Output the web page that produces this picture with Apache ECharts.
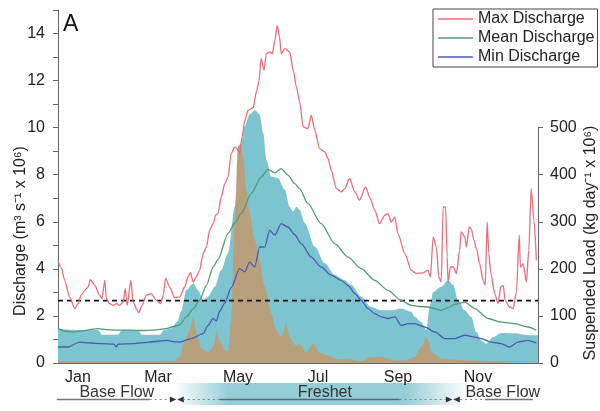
<!DOCTYPE html>
<html>
<head>
<meta charset="utf-8">
<script src="https://cdn.jsdelivr.net/npm/echarts@6/dist/echarts.min.js"></script>
<style>
  html, body { margin: 0; padding: 0; background: #fff; }
  #chart { width: 600px; height: 411px; }
</style>
</head>
<body>
<div id="chart"></div>
<script>
// Month categories along the bottom axis
const monthLabels = ['Jan', 'Feb', 'Mar', 'Apr', 'May', 'Jun', 'Jul', 'Aug', 'Sep', 'Oct', 'Nov', 'Dec'];

// Labelled ticks on each vertical axis
const dischargeTicks = [0, 2, 4, 6, 8, 10, 12, 14];
const loadTicks = [0, 100, 200, 300, 400, 500];

// Threshold discharge (m3 s-1 x 10^6)
const thresholdDischarge = 2.65;

// Discharge series: [month position (0 = 1 Jan, 12 = 31 Dec), discharge m3 s-1 x 10^6]
const maxDischarge = [
  [0, 4.36], [0.08, 4.05], [0.17, 3.5], [0.29, 2.8], [0.42, 2.31], [0.5, 2.52], [0.58, 2.88],
  [0.67, 3.09], [0.75, 3.23], [0.81, 3.54], [0.92, 3.3], [1.04, 2.88], [1.1, 2.74], [1.17, 3.51],
  [1.21, 2.74], [1.29, 2.52], [1.38, 2.45], [1.46, 2.52], [1.54, 2.45], [1.63, 2.6], [1.68, 3.16],
  [1.73, 2.45], [1.82, 3.51], [1.88, 2.59], [1.96, 2.31], [2.02, 2.13], [2.1, 2.45], [2.21, 2.88],
  [2.33, 2.95], [2.46, 2.66], [2.57, 2.52], [2.63, 2.88], [2.69, 3.61], [2.79, 3.23], [2.92, 2.77],
  [3.04, 2.8], [3.17, 3.23], [3.25, 3.66], [3.31, 3.84], [3.38, 3.44], [3.46, 3.66], [3.54, 3.94],
  [3.63, 4.65], [3.71, 4.93], [3.79, 5.64], [3.88, 5.92], [3.94, 6.28], [4.0, 6.35], [4.08, 7.05],
  [4.17, 7.62], [4.25, 7.9], [4.33, 8.9], [4.42, 9.18], [4.47, 9.11], [4.54, 8.9], [4.6, 9.6],
  [4.67, 10.31], [4.75, 10.74], [4.88, 10.85], [4.96, 11.52], [5.02, 11.94], [5.08, 12.94],
  [5.15, 12.44], [5.21, 13.15], [5.29, 13.22], [5.36, 13.15], [5.42, 13.71], [5.48, 14.35],
  [5.54, 13.85], [5.58, 13.15], [5.67, 13.36], [5.79, 13.22], [5.88, 12.44], [5.96, 11.73],
  [6.04, 11.1], [6.13, 10.03], [6.25, 9.96], [6.33, 10.53], [6.42, 9.89], [6.54, 9.11], [6.67, 8.97],
  [6.75, 8.69], [6.83, 8.19], [6.96, 7.41], [7.08, 7.27], [7.17, 7.41], [7.29, 7.84], [7.42, 7.27],
  [7.54, 6.92], [7.69, 7.48], [7.79, 7.05], [7.92, 6.49], [8.04, 5.92], [8.17, 6.28], [8.25, 6.35],
  [8.33, 5.99], [8.42, 6.2], [8.5, 5.5], [8.67, 4.65], [8.83, 3.94], [8.96, 3.8], [9.13, 3.83],
  [9.25, 3.94], [9.31, 3.66], [9.38, 5.36], [9.46, 4.93], [9.52, 3.66], [9.58, 3.44], [9.63, 6.63],
  [9.69, 6.63], [9.73, 4.5], [9.75, 3.44], [9.81, 4.08], [9.88, 4.08], [9.96, 3.8], [10.04, 4.79],
  [10.08, 5.57], [10.17, 5.36], [10.21, 4.93], [10.28, 5.78], [10.33, 5.71], [10.4, 5.21],
  [10.46, 4.86], [10.54, 4.22], [10.63, 3.51], [10.68, 3.3], [10.73, 5.99], [10.77, 4.65],
  [10.82, 3.8], [10.92, 2.95], [11.0, 2.52], [11.07, 3.23], [11.13, 3.3], [11.18, 2.66],
  [11.29, 2.38], [11.38, 2.31], [11.46, 3.02], [11.53, 5.43], [11.56, 4.08], [11.63, 4.22],
  [11.71, 3.44], [11.77, 4.79], [11.83, 7.41], [11.9, 6.06], [11.96, 4.36]
];

const meanDischarge = [
  [0, 1.46], [0.2, 1.35], [0.4, 1.32], [0.6, 1.36], [0.8, 1.42], [1.0, 1.46], [1.2, 1.42],
  [1.5, 1.4], [1.8, 1.4], [2.1, 1.38], [2.4, 1.4], [2.7, 1.46], [2.9, 1.55], [3.04, 1.62],
  [3.21, 1.96], [3.38, 2.3], [3.54, 2.66], [3.71, 3.3], [3.88, 4.08], [4.0, 4.4], [4.25, 5.5],
  [4.42, 5.95], [4.58, 6.35], [4.83, 7.2], [5.08, 7.9], [5.25, 8.23], [5.42, 8.08], [5.58, 8.26],
  [5.75, 7.98], [5.92, 7.62], [6.04, 7.41], [6.25, 6.77], [6.58, 5.92], [6.92, 5.07], [7.25, 4.5],
  [7.58, 4.01], [7.92, 3.51], [8.25, 3.09], [8.58, 2.66], [8.83, 2.45], [9.04, 2.4], [9.25, 2.38],
  [9.58, 2.24], [9.75, 2.35], [9.92, 2.49], [10.17, 2.59], [10.42, 2.31], [10.75, 1.89],
  [11.08, 1.74], [11.42, 1.67], [11.75, 1.53], [11.96, 1.39]
];

const minDischarge = [
  [0, 0.68], [0.25, 0.68], [0.54, 0.89], [0.8, 0.85], [1.1, 0.82], [1.4, 0.8], [1.46, 0.68],
  [1.5, 0.8], [1.88, 0.82], [2.29, 0.89], [2.71, 0.96], [2.92, 0.9], [3.04, 0.89], [3.33, 1.04],
  [3.63, 1.25], [3.75, 1.6], [3.88, 1.9], [3.96, 1.78], [4.04, 2.2], [4.17, 2.55], [4.33, 3.2],
  [4.54, 4.01], [4.67, 3.87], [4.79, 4.29], [4.92, 4.08], [5.04, 4.93], [5.17, 4.93], [5.29, 5.64],
  [5.42, 5.43], [5.58, 5.92], [5.75, 5.78], [5.92, 5.45], [6.08, 5.07], [6.33, 4.5], [6.58, 4.08],
  [6.83, 3.73], [7.08, 3.51], [7.25, 3.3], [7.42, 2.95], [7.58, 2.66], [7.75, 2.31], [7.92, 2.1],
  [8.08, 1.96], [8.25, 1.89], [8.42, 1.96], [8.58, 1.6], [8.75, 1.67], [8.92, 1.67], [9.17, 1.53],
  [9.42, 1.32], [9.67, 1.04], [9.92, 1.04], [10.17, 1.18], [10.42, 1.1], [10.58, 1.04],
  [10.83, 0.89], [11.08, 0.82], [11.29, 0.68], [11.5, 0.89], [11.75, 0.96], [11.96, 0.85]
];

// Suspended load envelopes: [month position, kg day-1 x 10^6]
const loadHigh = [
  [0, 72], [0.5, 70], [1.0, 70], [1.1, 60], [1.5, 60], [1.6, 70], [2.0, 70], [2.1, 60],
  [2.55, 60], [2.65, 70], [2.85, 74], [2.98, 88], [3.08, 110], [3.21, 155], [3.38, 169],
  [3.5, 155], [3.63, 134], [3.75, 141], [3.92, 162], [4.08, 197], [4.25, 233], [4.42, 332],
  [4.54, 446], [4.67, 503], [4.79, 528], [4.92, 537], [5.04, 528], [5.13, 489], [5.21, 432],
  [5.33, 396], [5.5, 393], [5.67, 368], [5.79, 332], [5.88, 322], [5.96, 332], [6.04, 325],
  [6.17, 297], [6.42, 247], [6.67, 212], [6.92, 187], [7.17, 176], [7.33, 166], [7.58, 141],
  [7.83, 119], [8.08, 112], [8.33, 112], [8.58, 116], [8.83, 109], [8.92, 98], [9.08, 87],
  [9.21, 70], [9.29, 119], [9.38, 151], [9.58, 162], [9.75, 176], [9.88, 166], [10.0, 134],
  [10.17, 112], [10.33, 98], [10.46, 66], [10.58, 48], [10.71, 41], [10.88, 55], [11.08, 64],
  [11.42, 63], [11.75, 59], [12, 59]
];

const loadLow = [
  [0, 4], [1, 4], [2, 4], [2.9, 5], [3.04, 13], [3.17, 48], [3.29, 70], [3.38, 98], [3.46, 63],
  [3.58, 31], [3.75, 23], [3.88, 34], [3.96, 66], [4.04, 48], [4.17, 27], [4.25, 23], [4.33, 91],
  [4.42, 304], [4.5, 460], [4.57, 467], [4.63, 439], [4.71, 368], [4.79, 318], [4.92, 261],
  [5.04, 219], [5.17, 162], [5.33, 105], [5.46, 70], [5.58, 55], [5.71, 84], [5.79, 55],
  [5.92, 38], [6.04, 40], [6.21, 22], [6.38, 42], [6.54, 22], [6.75, 16], [7.0, 8], [7.25, 9],
  [7.58, 4], [7.83, 13], [8.08, 14], [8.33, 7], [8.67, 5], [8.92, 13], [9.08, 34], [9.21, 53],
  [9.38, 20], [9.58, 9], [10.17, 6], [11, 4], [12, 4]
];

// Hydrological seasons shown beneath the time axis (month positions)
const seasonNames = ['Base Flow', 'Freshet', 'Base Flow'];
const seasonBreaks = [2.97, 9.87];

const FONT = '"Liberation Sans", Arial, Helvetica, sans-serif';
const AXIS_GRAY = '#666';
const LABEL_COLOR = '#222';

const chart = echarts.init(document.getElementById('chart'), null, { renderer: 'canvas' });

function lineSeries(name, data, color) {
  return {
    name, type: 'line', data, xAxisIndex: 1, yAxisIndex: 0,
    symbol: 'none', smooth: 0.25, smoothMonotone: 'x', z: 5,
    lineStyle: { color, width: 1.3 }, itemStyle: { color }
  };
}

function areaSeries(name, data, color, z) {
  return {
    name, type: 'line', data, xAxisIndex: 1, yAxisIndex: 1,
    symbol: 'none', smooth: 0.3, smoothMonotone: 'x', z,
    lineStyle: { width: 0 }, areaStyle: { color, opacity: 1 }, itemStyle: { color }
  };
}

const tealSeries = areaSeries('Suspended Load (upper)', loadHigh, '#7cc4cf', 1);
// right-hand axis line only spans the labelled load range
tealSeries.markLine = {
  silent: true, symbol: 'none', label: { show: false },
  lineStyle: { color: AXIS_GRAY, width: 1, type: 'solid' },
  data: [[{ coord: [12, loadTicks[0]] }, { coord: [12, loadTicks[loadTicks.length - 1]] }]]
};

chart.setOption({
  animation: false,
  textStyle: { fontFamily: FONT },
  grid: { left: 58, right: 62, top: 10, bottom: 48, containLabel: false },
  legend: {
    data: ['Max Discharge', 'Mean Discharge', 'Min Discharge'],
    orient: 'vertical', left: 433, top: 9,
    icon: 'rect', itemWidth: 35, itemHeight: 1.4, itemGap: 3,
    borderColor: '#444', borderWidth: 1, padding: [2, 3, 2, 5],
    textStyle: { fontSize: 16, color: LABEL_COLOR, fontFamily: FONT }
  },
  xAxis: [
    {
      type: 'category', data: monthLabels, boundaryGap: true,
      axisLine: { lineStyle: { color: AXIS_GRAY } },
      axisTick: { length: 5, interval: 0, lineStyle: { color: AXIS_GRAY } },
      axisLabel: { interval: 1, fontSize: 16, color: LABEL_COLOR, margin: 7, fontFamily: FONT },
      splitLine: { show: false }
    },
    { type: 'value', min: 0, max: 12, show: false }
  ],
  yAxis: [
    {
      type: 'value', min: 0, max: 15, interval: 1,
      axisLine: { show: true, lineStyle: { color: AXIS_GRAY } },
      axisTick: { show: true, length: 5, lineStyle: { color: AXIS_GRAY } },
      axisLabel: {
        fontSize: 16, color: LABEL_COLOR, margin: 13, fontFamily: FONT,
        formatter: v => (dischargeTicks.includes(v) ? String(v) : '')
      },
      splitLine: { show: false }
    },
    {
      type: 'value', min: 0, max: 750, interval: 100, position: 'right',
      axisLine: { show: false },
      axisTick: { show: true, length: 5, customValues: loadTicks, lineStyle: { color: AXIS_GRAY } },
      axisLabel: { customValues: loadTicks, fontSize: 16, color: LABEL_COLOR, margin: 12, fontFamily: FONT },
      splitLine: { show: false }
    }
  ],
  series: [
    tealSeries,
    areaSeries('Suspended Load (lower)', loadLow, '#b8a07c', 2),
    {
      name: 'Threshold', type: 'line', xAxisIndex: 1, yAxisIndex: 0, z: 4,
      data: [[0, thresholdDischarge], [12, thresholdDischarge]],
      symbol: 'none', lineStyle: { color: '#111', width: 1.6, type: [5, 4] }
    },
    lineSeries('Max Discharge', maxDischarge, '#f06a78'),
    lineSeries('Mean Discharge', meanDischarge, '#4f9c74'),
    lineSeries('Min Discharge', minDischarge, '#4a5cb0')
  ]
});

// Season strip and axis titles
const px = m => chart.convertToPixel({ xAxisIndex: 1 }, m);
const BAND_TOP = 383, BAND_H = 22, TEXT_Y = 392.5, LINE_Y = 399.5;
const bandStart = px(seasonBreaks[0] - 0.07), bandEnd = px(seasonBreaks[1] + 0.37);
const bandW = bandEnd - bandStart;
const bandRGB = '150,205,214';

function seg(x1, x2, dotted, color) {
  return {
    type: 'line', silent: true,
    shape: { x1, y1: LINE_Y, x2, y2: LINE_Y },
    style: { stroke: color, lineWidth: dotted ? 1.2 : 1.5, lineDash: dotted ? [2, 3] : null }
  };
}
function arrows(cx) {
  return [
    { type: 'polygon', silent: true, shape: { points: [[cx - 7, LINE_Y - 3], [cx - 7, LINE_Y + 3], [cx - 0.5, LINE_Y]] }, style: { fill: '#333' } },
    { type: 'polygon', silent: true, shape: { points: [[cx + 7, LINE_Y - 3], [cx + 7, LINE_Y + 3], [cx + 0.5, LINE_Y]] }, style: { fill: '#333' } }
  ];
}
function label(text, x) {
  return {
    type: 'text', silent: true, x, y: TEXT_Y,
    style: { text, font: '16px ' + FONT, fill: '#333', align: 'center', verticalAlign: 'middle' }
  };
}

const b0 = seasonBreaks[0], b1 = seasonBreaks[1];
const graphics = [
  {
    type: 'rect', silent: true, z: -1,
    shape: { x: bandStart, y: BAND_TOP, width: bandW, height: BAND_H },
    style: {
      fill: new echarts.graphic.LinearGradient(0, 0, 1, 0, [
        { offset: 0, color: 'rgba(' + bandRGB + ',0)' },
        { offset: (px(b0 + 1.3) - bandStart) / bandW, color: 'rgba(' + bandRGB + ',1)' },
        { offset: (px(b1 - 1.2) - bandStart) / bandW, color: 'rgba(' + bandRGB + ',1)' },
        { offset: 1, color: 'rgba(' + bandRGB + ',0)' }
      ])
    }
  },
  seg(px(-0.03), px(b0 - 0.68), false, '#777'),
  seg(px(b0 - 0.68), px(b0 - 0.15), true, '#888'),
  ...arrows(px(b0)),
  seg(px(b0 + 0.15), px(b0 + 1.07), true, '#6a8a95'),
  seg(px(b0 + 1.07), px(b1 - 1.33), false, '#556a74'),
  seg(px(b1 - 1.33), px(b1 - 0.18), true, '#6a8a95'),
  ...arrows(px(b1)),
  seg(px(b1 + 0.18), px(b1 + 0.8), true, '#888'),
  seg(px(b1 + 0.8), px(11.87), false, '#777'),
  label(seasonNames[0], px(1.47)),
  label(seasonNames[1], px(6.67)),
  label(seasonNames[2], px(11.12)),
  {
    type: 'text', silent: true, x: 63, y: 13,
    style: { text: 'A', font: '23px ' + FONT, fill: '#111', align: 'left', verticalAlign: 'top' }
  },
  {
    type: 'text', silent: true, x: 21, y: 231, rotation: Math.PI / 2,
    style: { text: 'Discharge (m³ s⁻¹ x 10⁶)', font: '16px ' + FONT, fill: LABEL_COLOR, align: 'center', verticalAlign: 'middle' }
  },
  {
    type: 'text', silent: true, x: 591, y: 243, rotation: Math.PI / 2,
    style: { text: 'Suspended Load (kg day⁻¹ x 10⁶)', font: '16px ' + FONT, fill: LABEL_COLOR, align: 'center', verticalAlign: 'middle' }
  }
];
chart.setOption({ graphic: graphics });
</script>
</body>
</html>
